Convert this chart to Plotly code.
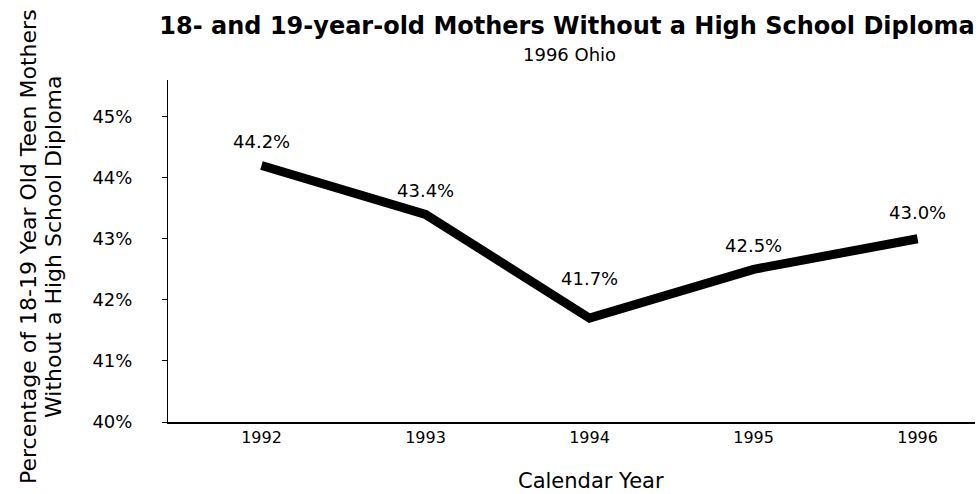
import plotly.graph_objects as go

years = [1992, 1993, 1994, 1995, 1996]
pct = [44.2, 43.4, 41.7, 42.5, 43.0]
y_ticks = [40, 41, 42, 43, 44, 45]

title = "18- and 19-year-old Mothers Without a High School Diploma"
subtitle = "1996 Ohio"
y_title_lines = ["Percentage of 18-19 Year Old Teen Mothers", "Without a High School Diploma"]
x_title = "Calendar Year"

FONT = "DejaVu Sans"

W, H = 980, 494
L, R, T, B = 168, 5, 80, 72
PW, PH = W - L - R, H - T - B

# vertical offsets (px) of the value labels above the line, per point
label_dy = [24, 24, 40, 24, 26]


def px_x(x):
    return (x - L) / PW


def px_y(y):
    return (H - B - y) / PH


fig = go.Figure()
fig.add_trace(go.Scatter(
    x=years, y=pct, mode="lines",
    line=dict(color="black", width=9),
    hoverinfo="skip", showlegend=False,
))

for xv, yv, dy in zip(years, pct, label_dy):
    fig.add_annotation(
        x=xv, y=yv, text=f"{yv:.1f}%", showarrow=False,
        yshift=dy, font=dict(family=FONT, size=18, color="black"),
    )

fig.add_annotation(
    xref="paper", yref="paper", x=px_x(569), y=px_y(55),
    text=subtitle, showarrow=False,
    font=dict(family=FONT, size=18, color="black"),
    xanchor="center", yanchor="middle",
)
for xpos, line in zip([28, 53], y_title_lines):
    fig.add_annotation(
        xref="paper", yref="paper", x=px_x(xpos), y=px_y(247),
        text=line, showarrow=False, textangle=-90,
        font=dict(family=FONT, size=22, color="black"),
        xanchor="center", yanchor="middle",
    )
fig.add_annotation(
    xref="paper", yref="paper", x=px_x(591), y=px_y(481),
    text=x_title, showarrow=False,
    font=dict(family=FONT, size=21, color="black"),
    xanchor="center", yanchor="middle",
)

fig.update_layout(
    width=W, height=H,
    margin=dict(l=L, r=R, t=T, b=B),
    paper_bgcolor="white", plot_bgcolor="white",
    title=dict(
        text=f"<b>{title}</b>", x=567 / W, xanchor="center",
        y=1 - 26 / H, yanchor="middle",
        font=dict(family=FONT, size=24, color="black"),
    ),
    font=dict(family=FONT, color="black"),
    xaxis=dict(
        range=[1991.43, 1996.35], tickvals=years, ticktext=[str(y) for y in years],
        showgrid=False, zeroline=False, showline=True, linecolor="black", linewidth=2,
        ticks="", tickfont=dict(size=16, family=FONT),
    ),
    yaxis=dict(
        range=[40, 45.6], tickvals=y_ticks, ticktext=[f"{v}%" for v in y_ticks],
        showgrid=False, zeroline=False, showline=True, linecolor="black", linewidth=1,
        ticks="outside", ticklen=5, tickcolor="black", tickwidth=1,
        tickfont=dict(size=18, family=FONT), ticklabelstandoff=26,
    ),
)

fig.write_html(
    "out.html",
    config={"displayModeBar": False},
    post_script="document.body.style.margin='0';document.body.style.padding='0';",
)
